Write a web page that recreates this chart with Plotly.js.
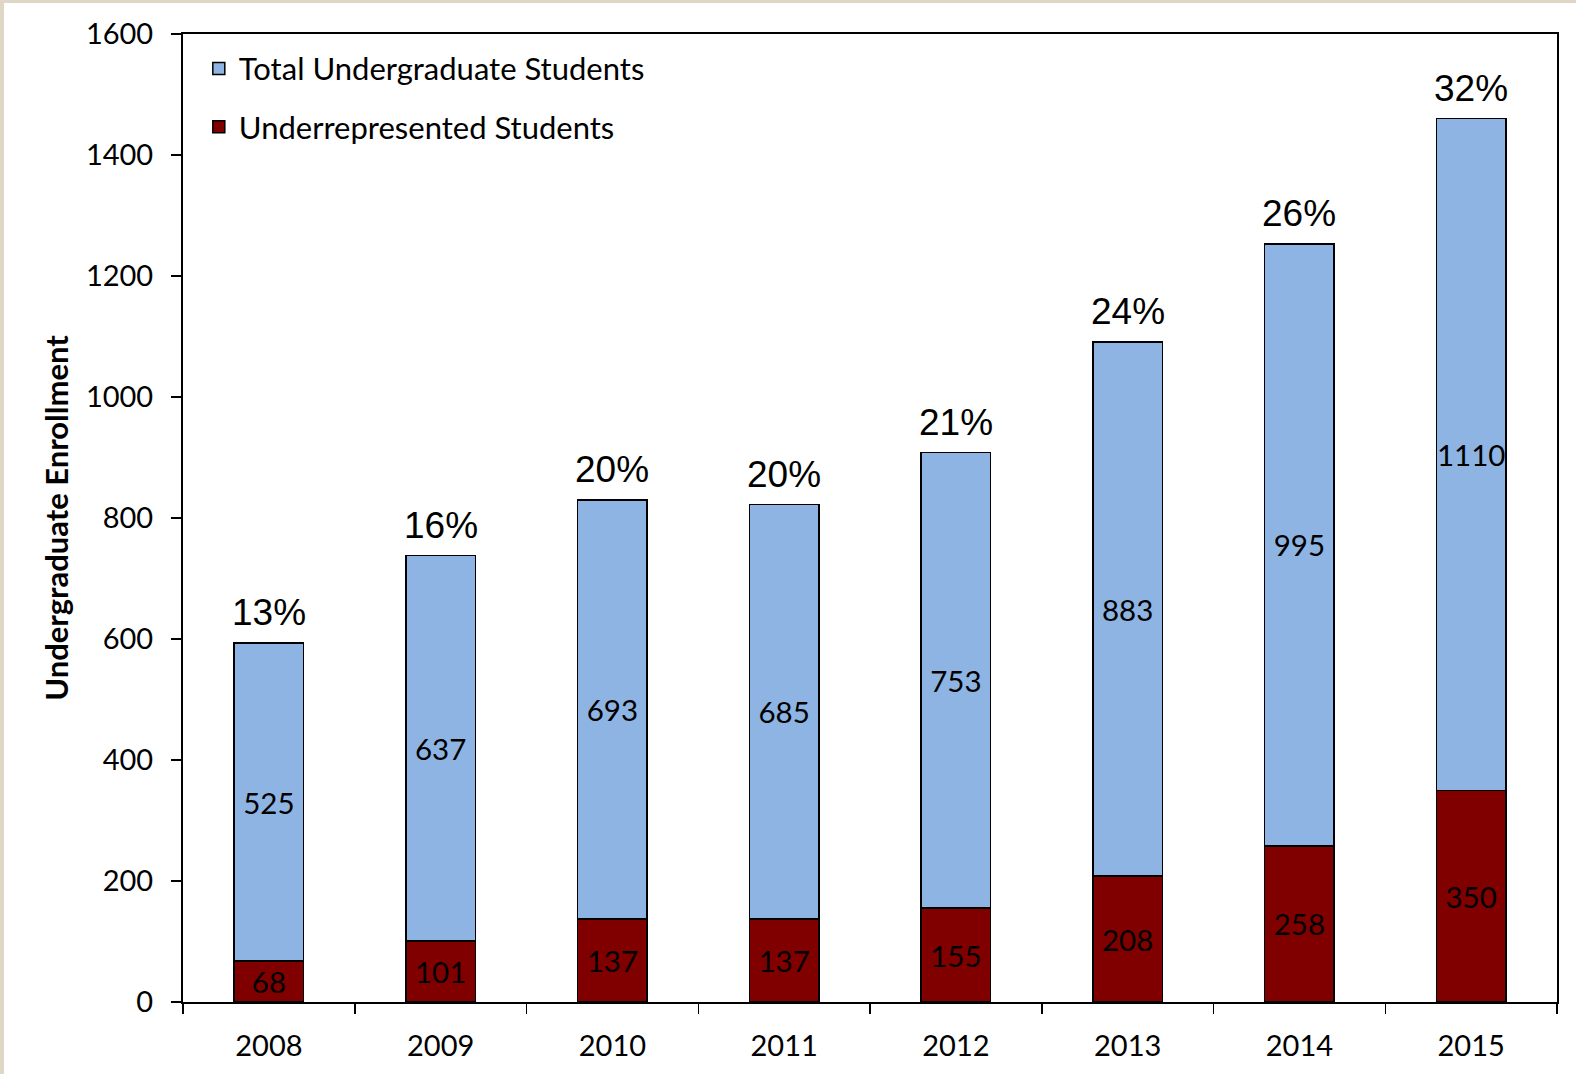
<!DOCTYPE html>
<html>
<head>
<meta charset="utf-8">
<script src="https://cdn.plot.ly/plotly-3.0.1.min.js"></script>
<style>
html,body{margin:0;padding:0;background:#E0D6C5;width:1576px;height:1074px;overflow:hidden;}
#chart{position:absolute;left:4px;top:3px;width:1572px;height:1071px;background:#fff;}
</style>
</head>
<body>
<div id="chart"></div>
<script>
const years = ["2008","2009","2010","2011","2012","2013","2014","2015"];
const underrepresented = [68,101,137,137,155,208,258,350];
const otherStudents = [525,637,693,685,753,883,995,1110];
const percentLabels = ["13%","16%","20%","20%","21%","24%","26%","32%"];

const totals = years.map((y,i)=>underrepresented[i]+otherStudents[i]);

const labelFont = {family:"Lato, 'Open Sans', sans-serif", size:29.5, color:"#000"};
const tickFont = {family:"Lato, 'Open Sans', sans-serif", size:29, color:"#000"};

const traces = [
  {
    type:"bar", name:"Underrepresented Students", x:years, y:underrepresented,
    marker:{color:"#800000", line:{color:"#000", width:1.5}},
    text:underrepresented.map(String), textposition:"inside", insidetextanchor:"middle",
    constraintext:"none", textangle:0, textfont:labelFont, legendrank:2, legendgroup:"b",
    hoverinfo:"skip"
  },
  {
    type:"bar", name:"Total Undergraduate Students", x:years, y:otherStudents,
    marker:{color:"#8EB4E3", line:{color:"#000", width:1.5}},
    text:otherStudents.map(String), textposition:"inside", insidetextanchor:"middle",
    constraintext:"none", textangle:0, textfont:labelFont, legendrank:1, legendgroup:"a",
    hoverinfo:"skip"
  }
];

const annotations = years.map((y,i)=>({
  x:i, y:totals[i], xref:"x", yref:"y", text:percentLabels[i], showarrow:false,
  yanchor:"bottom", yshift:8,
  font:{family:"'Liberation Sans', Arial, sans-serif", size:37, color:"#000"}
}));

const layout = {
  width:1572, height:1071,
  margin:{l:179, r:19, t:31, b:72},
  paper_bgcolor:"#fff", plot_bgcolor:"#fff",
  barmode:"stack", bargap:0.595,
  showlegend:true,
  legend:{x:0.0115, y:0.992, xanchor:"left", yanchor:"top", bgcolor:"rgba(0,0,0,0)",
    font:{family:"Lato, 'Open Sans', sans-serif", size:31, color:"#000"},
    traceorder:"grouped", tracegroupgap:15, itemwidth:30},
  xaxis:{
    type:"category", range:[-0.5,7.5], autorange:false,
    showline:true, linecolor:"#000", linewidth:2, mirror:true,
    ticks:"outside", tickson:"boundaries", ticklen:10, tickwidth:1.5, tickcolor:"#000",
    tickangle:0, ticklabelstandoff:17,
    tickfont:tickFont,
    showgrid:false, zeroline:false, fixedrange:true
  },
  yaxis:{
    range:[0,1600], autorange:false, dtick:200, showline:true, linecolor:"#000", linewidth:2, mirror:true,
    ticks:"outside", ticklen:10, tickwidth:1.5, tickcolor:"#000", ticklabelstandoff:12,
    tickfont:tickFont,
    showgrid:false, zeroline:false, fixedrange:true,
    title:{text:"<b>Undergraduate Enrollment</b>", standoff:8,
      font:{family:"Lato, 'Open Sans', sans-serif", size:31, color:"#000"}}
  },
  annotations:annotations
};

Plotly.newPlot("chart", traces, layout, {staticPlot:true});
</script>
</body>
</html>
